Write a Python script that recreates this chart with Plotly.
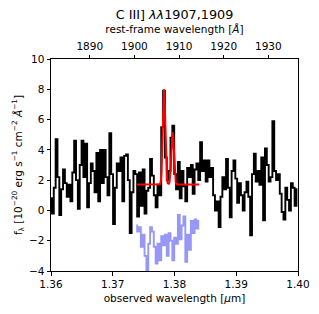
import numpy as np
import plotly.graph_objects as go

# redshift factor (1+z) linking observed and rest-frame wavelength
one_plus_z = 7.229

# observed spectrum: bins start at 1.3600 um, width 0.0003 um
wl_start = 1.3600
wl_step = 0.0003
flux_obs = [
    0.8, -0.2, 1.5, 4.7, 2.2, -0.3, 1.4, 2.7, 1.8, 0.9,
    1.7, 0.6, 2.5, 4.6, 2.0, 0.1, 3.0, 4.6, 2.2, 4.4,
    0.2, 1.8, 3.1, 2.6, 1.2, 3.8, 0.6, 4.0, 1.8, 4.0,
    2.2, 1.0, 5.1, 2.4, -0.9, 1.5, 3.1, 2.6, 3.5, 0.6,
    3.6, 3.7, 2.0, -1.5, 1.2, 2.6, 2.4, -0.4, 2.5, 0.3,
    2.7, -0.2, 1.3, 1.5, 3.4, 2.3, 1.0, 0.2, 1.7, 1.0,
    5.5, 7.9, 3.5, 2.0, 2.6, 4.8, 5.6, 2.4, 1.4, 3.2,
    0.8, 2.6, 1.6, 0.6, 2.8, 2.2, 3.0, 1.1, 2.7, 3.1,
    2.0, 4.5, 2.6, 3.3, 1.9, 3.3, 2.2, 2.8, 1.0, 0.0,
    0.6, -1.1, 0.9, 2.2, 1.4, 3.4, 1.5, -0.45, 2.6, 3.3,
    2.1, 0.5, 1.8, 1.0, 0.0, 1.2, 1.9, 0.9, -1.65, 2.4,
    3.75, 1.9, 2.6, 1.7, 3.5, -0.65, 4.1, 3.0, 1.9, 2.2,
    5.9, 2.6, 2.0, 2.4, 1.1, -0.1, -0.6, 1.5, 0.7, 0.0,
    1.8, 1.5, 0.3, 1.4,
]

# residual-like blue trace, covering bins 46..80 of the same grid
blue_first_bin = 46
flux_blue = [
    -1.0, -1.4, -1.1, -2.4, -1.6, -3.0, -4.3, -2.2, -1.1, -1.4,
    -2.4, -3.5, -2.2, -3.3, -1.7, -2.3, -1.6, -3.0, -1.5, -2.0,
    -3.3, -1.8, -2.2, -0.3, -1.9, -1.0, -0.4, -3.4, -1.6, -2.6,
    -0.7, -1.5, -0.6, -1.2, -0.7,
]

# red model curve
red_wl = [1.3739, 1.3775, 1.3776, 1.3777, 1.3778, 1.3779, 1.3780, 1.3781, 1.3782,
          1.3783, 1.3784, 1.3785, 1.3786, 1.3787, 1.3788, 1.3789, 1.3790, 1.3791,
          1.3792, 1.3793, 1.3794, 1.3795, 1.3796, 1.3797, 1.3798, 1.3799, 1.3800,
          1.3801, 1.3802, 1.3803, 1.3804, 1.3805, 1.3840]
red_flux = [1.72, 1.72, 1.73, 1.79, 2.00, 2.57, 3.76, 5.53, 7.26,
            8.00, 7.26, 5.53, 3.76, 2.57, 2.00, 1.79, 1.74, 1.76,
            1.87, 2.19, 2.84, 3.81, 4.76, 5.17, 4.76, 3.81, 2.84,
            2.19, 1.87, 1.76, 1.74, 1.72, 1.72]

x_ticks = [1.36, 1.37, 1.38, 1.39, 1.40]
top_ticks = [1890, 1900, 1910, 1920, 1930]
y_ticks = [-4, -2, 0, 2, 4, 6, 8, 10]

wl_obs = wl_start + wl_step * np.arange(len(flux_obs))
wl_blue = wl_obs[blue_first_bin:blue_first_bin + len(flux_blue)]

FONT = "DejaVu Sans"
# the page body has an 8px margin, so the figure is sized to fit inside it
W, H = 303, 298

fig = go.Figure()
fig.add_trace(go.Scatter(x=wl_obs, y=flux_obs, mode="lines", line=dict(color="black", width=1.9, shape="hvh"),
                         showlegend=False))
fig.add_trace(go.Scatter(x=wl_blue, y=flux_blue, mode="lines",
                         line=dict(color="rgba(125,125,245,0.8)", width=1.9, shape="hvh"), showlegend=False))
fig.add_trace(go.Scatter(x=red_wl, y=red_flux, mode="lines", line=dict(color="red", width=2), showlegend=False))
# invisible trace on the rest-frame axis so the top axis is drawn
fig.add_trace(go.Scatter(x=wl_obs / one_plus_z * 1e4, y=flux_obs, xaxis="x2", mode="lines",
                         line=dict(width=0), opacity=0, hoverinfo="skip", showlegend=False))

axis_common = dict(showgrid=False, zeroline=False, ticks="outside", ticklen=3.5, tickwidth=1,
                   tickcolor="black", linecolor="black", linewidth=1, automargin=False,
                   tickfont=dict(family=FONT, size=10.5, color="black"))

fig.update_layout(
    width=W, height=H,
    margin=dict(l=43, r=12.5, t=51, b=35, autoexpand=False),
    paper_bgcolor="white", plot_bgcolor="white",
    title=dict(text="C III] <i>λλ</i>1907,1909", x=0.5, xanchor="center", xref="paper",
               y=1 - 7 / H, yref="container", yanchor="middle",
               font=dict(family=FONT, size=12.8, color="black")),
    xaxis=dict(range=[1.36, 1.40], tickvals=x_ticks, ticktext=[f"{v:.2f}" for v in x_ticks],
               mirror=True,
               title=dict(text="observed wavelength [<i>μ</i>m]", standoff=5,
                          font=dict(family=FONT, size=10.5, color="black")),
               **axis_common),
    xaxis2=dict(range=[1.36 / one_plus_z * 1e4, 1.40 / one_plus_z * 1e4], overlaying="x", side="top",
                anchor="y", tickvals=top_ticks,
                title=dict(text="rest-frame wavelength [<i>Å</i>]", standoff=4,
                           font=dict(family=FONT, size=10.5, color="black")),
                **axis_common),
    yaxis=dict(range=[-4, 10], tickvals=y_ticks, mirror=True,
               title=dict(text="f<sub>λ</sub> [10<sup>−20</sup> erg s<sup>−1</sup> cm<sup>−2</sup> <i>Å</i><sup>−1</sup>]",
                          standoff=4, font=dict(family=FONT, size=10.5, color="black")),
               **axis_common),
)

fig.write_html("out.html")
